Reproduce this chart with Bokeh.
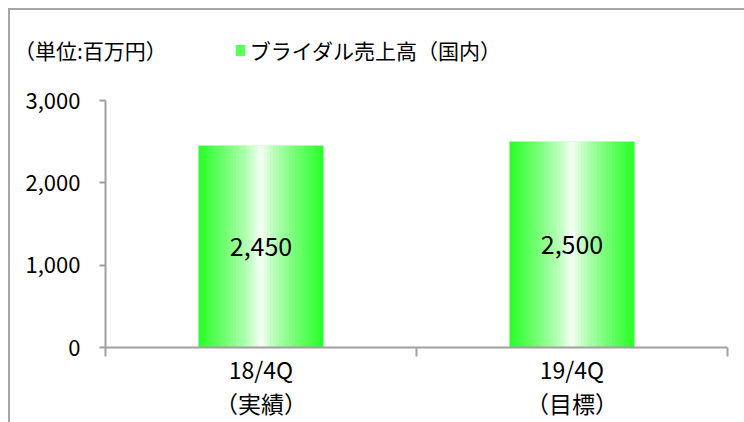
from bokeh.plotting import figure
from bokeh.layouts import column
from bokeh.models import (ColumnDataSource, Range1d, FixedTicker, NumeralTickFormatter,
                          Legend, LegendItem)
from bokeh.embed import file_html
from bokeh.resources import INLINE
from bokeh.core.properties import value

categories = ["18/4Q\n（実績）", "19/4Q\n（目標）"]
values = [2450, 2500]
series_name = "ブライダル売上高（国内）"
unit_label = "（単位:百万円）"
y_ticks = [0, 1000, 2000, 3000]

FONT = "Noto Sans CJK JP"
GREEN = (40, 255, 40)
LEGEND_GREEN = "#5cff5c"
BAR_W = 0.4
N_STRIPS = 40
AX = "#a0a0a0"

centers = [i + 0.5 for i in range(len(categories))]

# ---------- header (unit caption + legend) ----------
hdr = figure(width=734, height=72, x_range=Range1d(0, 1), y_range=Range1d(0, 1),
             output_backend="svg", toolbar_location=None,
             min_border_left=0, min_border_right=0, min_border_top=0, min_border_bottom=0)
hdr.frame_align = False
hdr.axis.visible = False
hdr.grid.visible = False
hdr.outline_line_color = None
h_unit = hdr.vbar(x=[0.5], top=[0], width=0.1, fill_alpha=0, line_alpha=0)
h_series = hdr.vbar(x=[0.5], top=[0], width=0.1, fill_color=LEGEND_GREEN, line_color=None)
legend = Legend(items=[LegendItem(label=unit_label, renderers=[h_unit]),
                       LegendItem(label=series_name, renderers=[h_series])],
                location=(-12, 17), orientation="horizontal", spacing=67,
                padding=0, margin=0, border_line_color=None, background_fill_alpha=0,
                glyph_width=12, glyph_height=14, label_standoff=4,
                label_text_font=FONT, label_text_font_size="21px", label_text_color="#000000")
hdr.add_layout(legend, "center")

# ---------- main chart ----------
p = figure(width=734, height=340, x_range=Range1d(0, len(categories)), y_range=Range1d(0, 3000),
           output_backend="svg", toolbar_location=None,
           min_border_left=95, min_border_right=17, min_border_top=18, min_border_bottom=73)
p.frame_align = False
p.outline_line_color = None
p.xgrid.visible = False
p.ygrid.visible = False

base = ColumnDataSource(dict(x=centers, top=values,
                             label=[f"{v:,}" for v in values], mid=[v / 2 for v in values]))
p.vbar(x="x", top="top", width=BAR_W, source=base, fill_color=LEGEND_GREEN, line_color=None)

# horizontal gradient (green edges -> white centre) as thin strips
xs, tops, cols = [], [], []
sw = BAR_W / N_STRIPS
for c, v in zip(centers, values):
    for k in range(N_STRIPS):
        off = -BAR_W / 2 + sw * (k + 0.5)
        t = abs(off) / (BAR_W / 2)
        t = min(1.0, t ** 0.75)
        col = tuple(int(round(255 + (g - 255) * t)) for g in GREEN)
        xs.append(c + off)
        tops.append(v)
        cols.append("#%02x%02x%02x" % col)
strips = ColumnDataSource(dict(x=xs, top=tops, color=cols))
p.vbar(x="x", top="top", width=sw * 1.15, source=strips, fill_color="color", line_color=None)

p.text(x="x", y="mid", text="label", source=base, text_align="center", text_baseline="middle",
       text_font=value(FONT), text_font_size="25px", text_color="#000000")

p.yaxis.ticker = FixedTicker(ticks=y_ticks)
p.yaxis.formatter = NumeralTickFormatter(format="0,0")
p.yaxis.axis_line_color = AX
p.yaxis.axis_line_width = 2
p.yaxis.major_tick_line_color = AX
p.yaxis.major_tick_line_width = 2
p.yaxis.major_tick_out = 6
p.yaxis.major_tick_in = 0
p.yaxis.minor_tick_line_color = None
p.yaxis.major_label_text_font = FONT
p.yaxis.major_label_text_font_size = "22px"
p.yaxis.major_label_text_color = "#000000"
p.yaxis.major_label_standoff = 19

p.xaxis.ticker = FixedTicker(ticks=centers, minor_ticks=list(range(len(categories) + 1)))
p.xaxis.major_label_overrides = {c: lab for c, lab in zip(centers, categories)}
p.xaxis.axis_line_color = AX
p.xaxis.axis_line_width = 2
p.xaxis.major_tick_line_color = None
p.xaxis.major_tick_out = 4
p.xaxis.minor_tick_line_color = AX
p.xaxis.minor_tick_line_width = 2
p.xaxis.minor_tick_out = 9
p.xaxis.minor_tick_in = 0
p.xaxis.major_label_text_font = FONT
p.xaxis.major_label_text_font_size = "23px"
p.xaxis.major_label_text_line_height = 1.0
p.xaxis.major_label_text_color = "#000000"
p.xaxis.major_label_standoff = -5

page = column(hdr, p, spacing=0,
              styles={"margin-left": "8px", "margin-top": "8px",
                      "border-left": "2px solid #a6a6a6", "border-top": "2px solid #a6a6a6"})

open("out.html", "w").write(file_html(page, INLINE))
